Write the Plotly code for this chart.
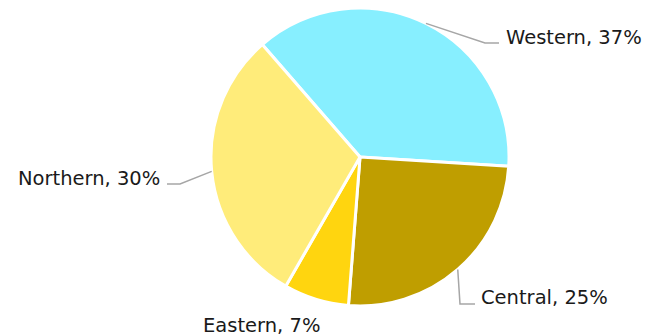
import math
import plotly.graph_objects as go

# Share of total by region
regions = ["Western", "Central", "Eastern", "Northern"]
shares = [37, 25, 7, 30]
colors = ["#87EFFF", "#BF9E00", "#FFD50F", "#FFEC7A"]

W, H = 652, 336
CX, CY, R = 360, 157, 149      # pie centre and radius in pixels
START = -41                    # first slice begins 41 deg left of 12 o'clock

# Where each label sits and how its leader line bends (pixels)
label_layout = {
    "Western": dict(pos=(504, 37), xanchor="left", elbow=(485, 43), end=(499, 43)),
    "Central": dict(pos=(479, 297), xanchor="left", elbow=(460, 304), end=(475, 304)),
    "Eastern": dict(pos=(201, 325), xanchor="left", elbow=None, end=None),
    "Northern": dict(pos=(162, 178), xanchor="right", elbow=(180, 184), end=(167, 184)),
}

FONT = dict(family="DejaVu Sans", size=19.5, color="#1a1a1a")


def px(x, y):
    """Pixel position -> paper coordinates."""
    return x / W, 1 - y / H


fig = go.Figure(
    go.Pie(
        labels=regions,
        values=shares,
        sort=False,
        direction="clockwise",
        rotation=START,
        marker=dict(colors=colors, line=dict(color="white", width=3)),
        textinfo="none",
        showlegend=False,
        domain=dict(x=[(CX - R) / W, (CX + R) / W], y=[1 - (CY + R) / H, 1 - (CY - R) / H]),
    )
)

total = sum(shares)
cum = 0
shapes, annotations = [], []
for name, v in zip(regions, shares):
    mid = math.radians(START + 360 * (cum + v / 2) / total)
    cum += v
    spec = label_layout[name]
    pct = round(100 * v / total)

    ex, ey = CX + R * math.sin(mid), CY - R * math.cos(mid)
    if spec["elbow"] is not None:
        pts = [(ex, ey), spec["elbow"], spec["end"]]
        path = "M " + " L ".join("{:.5f},{:.5f}".format(*px(*p)) for p in pts)
        shapes.append(dict(type="path", xref="paper", yref="paper", path=path,
                           line=dict(color="#A6A6A6", width=1.5)))

    ax, ay = px(*spec["pos"])
    annotations.append(dict(
        x=ax, y=ay, xref="paper", yref="paper", showarrow=False,
        text=f"{name}, {pct}%", xanchor=spec["xanchor"], yanchor="middle",
        font=FONT,
    ))

fig.update_layout(
    width=W, height=H,
    margin=dict(l=0, r=0, t=0, b=0),
    paper_bgcolor="white",
    plot_bgcolor="white",
    shapes=shapes,
    annotations=annotations,
)

fig.write_html("out.html")
